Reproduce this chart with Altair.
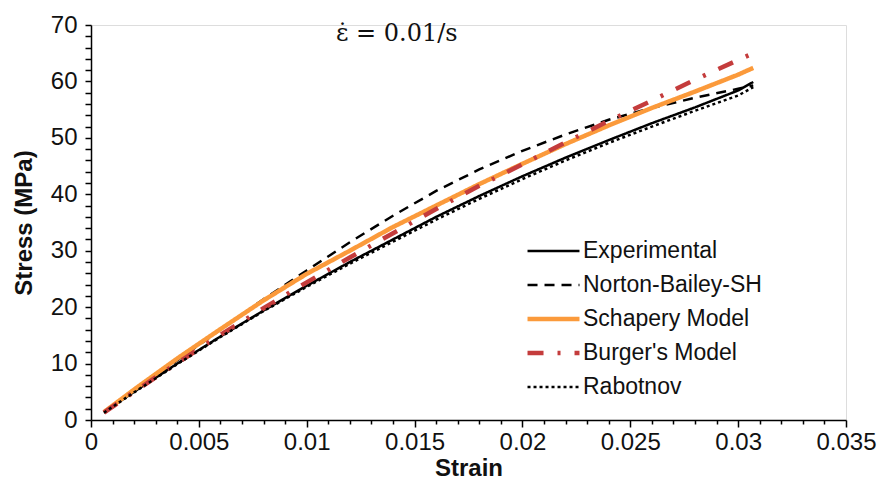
import altair as alt
import pandas as pd

strain = [0.0006, 0.002, 0.004, 0.006, 0.008, 0.010, 0.012, 0.014, 0.016,
          0.018, 0.020, 0.022, 0.024, 0.026, 0.028, 0.030, 0.0307]

experimental = [1.4, 5.0, 10.0, 14.8, 19.4, 23.8, 28.0, 32.0, 36.0,
                39.7, 43.2, 46.5, 49.6, 52.6, 55.4, 58.4, 59.9]
norton = [1.4, 5.1, 10.6, 16.0, 21.4, 26.5, 31.5, 36.2, 40.6,
          44.4, 47.7, 50.6, 53.2, 55.3, 57.1, 58.7, 59.3]
schapery = [1.4, 5.4, 10.9, 16.1, 21.2, 25.9, 30.0, 34.2, 38.0,
            41.8, 45.4, 48.9, 52.2, 55.3, 58.2, 61.2, 62.4]
burger = [1.3, 5.0, 10.1, 15.1, 19.8, 24.4, 28.8, 33.1, 37.4,
          41.5, 45.3, 49.2, 53.0, 56.6, 60.3, 63.8, 65.0]
rabotnov = [1.3, 4.9, 9.9, 14.7, 19.3, 23.6, 27.7, 31.6, 35.5,
            39.2, 42.7, 46.0, 49.1, 52.0, 54.8, 57.5, 59.0]

series_names = ["Experimental", "Norton-Bailey-SH", "Schapery Model",
                "Burger's Model", "Rabotnov"]
series_values = [experimental, norton, schapery, burger, rabotnov]
colors = ["#000000", "#000000", "#FB9A3B", "#C43C3C", "#000000"]
dashes = [[1, 0], [10, 7], [1, 0], [16, 14, 3, 14], [3, 3]]
widths = [2.5, 2.5, 4.5, 4.5, 2.5]

x_ticks = [i / 1000 for i in range(0, 36)]
y_ticks = list(range(0, 71, 2))

rows = []
for name, vals in zip(series_names, series_values):
    for i, (s, v) in enumerate(zip(strain, vals)):
        rows.append({"series": name, "strain": s, "stress": v, "order": i})
df = pd.DataFrame(rows)

font = "Liberation Sans"
legend = alt.Legend(
    title=None, orient="none", legendX=434, legendY=214,
    symbolType="stroke", symbolSize=2700, labelFontSize=23, labelFont=font,
    labelColor="#111111", rowPadding=10, labelOffset=1, symbolOffset=0,
    clipHeight=24, labelLimit=400,
)

chart = alt.Chart(df).mark_line().encode(
    x=alt.X("strain:Q", title="Strain",
            scale=alt.Scale(domain=[0, 0.035], nice=False, zero=True),
            axis=alt.Axis(
                values=x_ticks, grid=False,
                labelExpr="round(datum.value*1000) % 5 == 0 ? datum.value + '' : ''",
                labelOverlap=False, labelFlush=False,
                tickSize={"condition": {"test": "round(datum.value*1000) % 5 == 0", "value": 7}, "value": 4},
                tickColor="#000000", tickWidth=1.5, domainColor="#000000", domainWidth=1.5,
                labelFont=font, labelFontSize=24, labelColor="#111111", labelPadding=3,
                titleFont=font, titleFontSize=24, titleFontWeight="bold", titleColor="#111111",
                titlePadding=2)),
    y=alt.Y("stress:Q", title="Stress (MPa)",
            scale=alt.Scale(domain=[0, 70], nice=False),
            axis=alt.Axis(
                values=y_ticks, grid=False,
                labelExpr="datum.value % 10 == 0 ? datum.label : ''",
                labelOverlap=False, labelFlush=False,
                tickSize=6, tickColor="#000000", tickWidth=1.5,
                domainColor="#000000", domainWidth=1.5,
                labelFont=font, labelFontSize=24, labelColor="#111111", labelPadding=8,
                titleFont=font, titleFontSize=24, titleFontWeight="bold", titleColor="#111111",
                titlePadding=14)),
    color=alt.Color("series:N", scale=alt.Scale(domain=series_names, range=colors), legend=legend),
    strokeDash=alt.StrokeDash("series:N", scale=alt.Scale(domain=series_names, range=dashes), legend=legend),
    strokeWidth=alt.StrokeWidth("series:N", scale=alt.Scale(type="ordinal", domain=series_names, range=widths), legend=legend),
    order="order:Q",
).properties(
    width=755, height=395,
    title=alt.TitleParams("ε̇ = 0.01/s", anchor="start", frame="group", dx=245, dy=52,
                          offset=0, baseline="alphabetic", font="DejaVu Serif", fontSize=24,
                          fontWeight="normal", color="#111111"),
    autosize=alt.AutoSizeParams(type="none"),
    padding={"left": 91, "top": 25, "right": 34, "bottom": 69},
).configure_view(stroke=None).configure(background="white")

chart.save("out.html", embed_options={"renderer": "svg", "actions": False})
